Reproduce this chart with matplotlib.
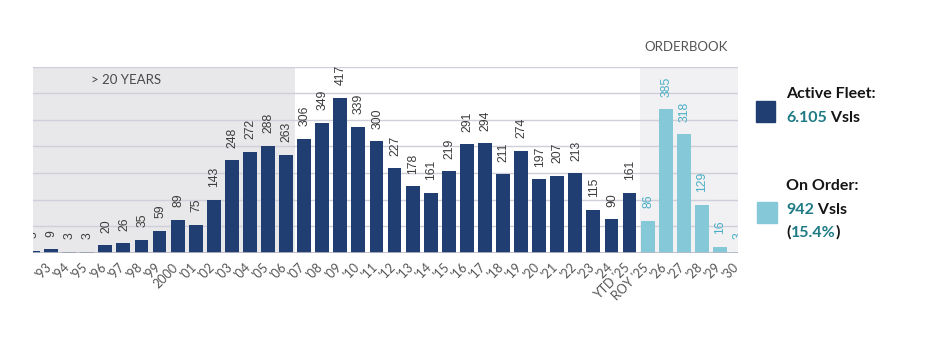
import matplotlib
matplotlib.use("Agg")
import matplotlib.pyplot as plt
import matplotlib.transforms as mtransforms
import numpy as np

# Fleet by year of build (active) and scheduled deliveries (orderbook)
years = ["'92", "'93", "'94", "'95", "'96", "'97", "'98", "'99", "2000", "'01",
         "'02", "'03", "'04", "'05", "'06", "'07", "'08", "'09", "'10", "'11",
         "'12", "'13", "'14", "'15", "'16", "'17", "'18", "'19", "'20", "'21",
         "'22", "'23", "'24", "YTD '25"]
active = [5, 9, 3, 3, 20, 26, 35, 59, 89, 75,
          143, 248, 272, 288, 263, 306, 349, 417, 339, 300,
          227, 178, 161, 219, 291, 294, 211, 274, 197, 207,
          213, 115, 90, 161]

order_years = ["ROY '25", "'26", "'27", "'28", "'29", "'30"]
on_order = [86, 385, 318, 129, 16, 3]

fleet_total = "6.105"
order_total = "942"
order_share = "15.4%"

DARK = "#213e73"
LIGHT = "#85c9d8"
TEAL_LABEL = "#4aaec6"
TEAL_TEXT = "#1e7a84"
GRID = "#cfcfdc"
INK = "#151515"

fig = plt.figure(figsize=(9.36, 3.41), dpi=100)
ax = fig.add_axes([33 / 936, 88.3 / 341, 705 / 936, 186 / 341])

n_act = len(active)
x_act = np.arange(n_act)
x_ord = np.arange(n_act, n_act + len(on_order))
width = 0.77
ymax = 500
xmax = 38.8

# background bands: vessels older than 20 years, and the orderbook
ax.axvspan(-1, 14.5, color="#e8e8ea", zorder=0, lw=0)
ax.axvspan(33.6, 45, color="#f1f1f3", zorder=0, lw=0)

# horizontal grid
for g in np.linspace(0, ymax, 8)[1:]:
    ax.axhline(g, color=GRID, lw=1.0, zorder=1)
ax.axhline(0, color="#b9b9c4", lw=1.2, zorder=3)

ax.bar(x_act, active, width=width, color=DARK, zorder=2)
ax.bar(x_ord, on_order, width=width, color=LIGHT, zorder=2)

lbl_font = dict(family="Liberation Sans", size=8.8)
for xi, v in zip(x_act, active):
    ax.annotate(str(v), (xi, v), xytext=(0.5, 9), textcoords="offset points",
                rotation=90, ha="center", va="bottom", color="#3c3c3c",
                annotation_clip=False, clip_on=True, **lbl_font)
for xi, v in zip(x_ord, on_order):
    ax.annotate(str(v), (xi, v), xytext=(0.5, 9), textcoords="offset points",
                rotation=90, ha="center", va="bottom", color=TEAL_LABEL,
                annotation_clip=False, clip_on=True, **lbl_font)

ax.set_xlim(0, xmax)
ax.set_ylim(0, ymax)
ax.set_yticks([])
ax.set_xticks(np.concatenate([x_act, x_ord]))
ax.set_xticklabels(years + order_years, rotation=45, ha="right", va="top",
                   rotation_mode="anchor", family="Lato", fontsize=9,
                   color="#555555")
ax.tick_params(axis="x", length=0, pad=6)
for s in ax.spines.values():
    s.set_visible(False)

# tick labels are cut at the left and right edges of the plot area
shift = mtransforms.ScaledTranslation(-4 / 72, 0, fig.dpi_scale_trans)
clip = mtransforms.TransformedBbox(
    mtransforms.Bbox([[0, -1], [1, 1]]), ax.transAxes)
for lab in ax.get_xticklabels():
    lab.set_transform(lab.get_transform() + shift)
    lab.set_clip_box(clip)
    lab.set_clip_on(True)

ax.text(0.082, 0.93, "> 20 YEARS", transform=ax.transAxes, family="Lato",
        fontsize=9.5, color="#4a4a4a", va="center", ha="left")
fig.text(686 / 936, 1 - 47 / 341, "ORDERBOOK", family="Lato", fontsize=9.5,
         color="#555555", ha="center", va="center")


# legend block
def fx(px):
    return px / 936


def fy(py):
    return 1 - py / 341


fig.patches.append(plt.Rectangle((fx(756), fy(122.3)), 19 / 936, 21.6 / 341,
                                 transform=fig.transFigure, color=DARK))
fig.patches.append(plt.Rectangle((fx(757), fy(223.3)), 20 / 936, 21.6 / 341,
                                 transform=fig.transFigure, color=LIGHT))

leg = dict(family="Lato", fontsize=11.5, fontweight="bold", va="baseline")
fig.text(fx(786), fy(98), "Active Fleet:", color=INK, **leg)
t1 = fig.text(fx(786), fy(122.5), fleet_total, color=TEAL_TEXT, **leg)
fig.text(fx(786), fy(190.5), "On Order:", color=INK, **leg)
t2 = fig.text(fx(786), fy(214), order_total, color=TEAL_TEXT, **leg)
p_open = fig.text(fx(786), fy(237), "(", color=INK, **leg)

fig.canvas.draw()
r = fig.canvas.get_renderer()


def after(txt, s, color):
    bb = txt.get_window_extent(r)
    return fig.text(bb.x1 / fig.bbox.width, txt.get_position()[1], s,
                    color=color, **leg)


after(t1, " Vsls", INK)
after(t2, " Vsls", INK)
pct = after(p_open, order_share, TEAL_TEXT)
after(pct, ")", INK)

fig.savefig("out.png", dpi=100, facecolor="white")
